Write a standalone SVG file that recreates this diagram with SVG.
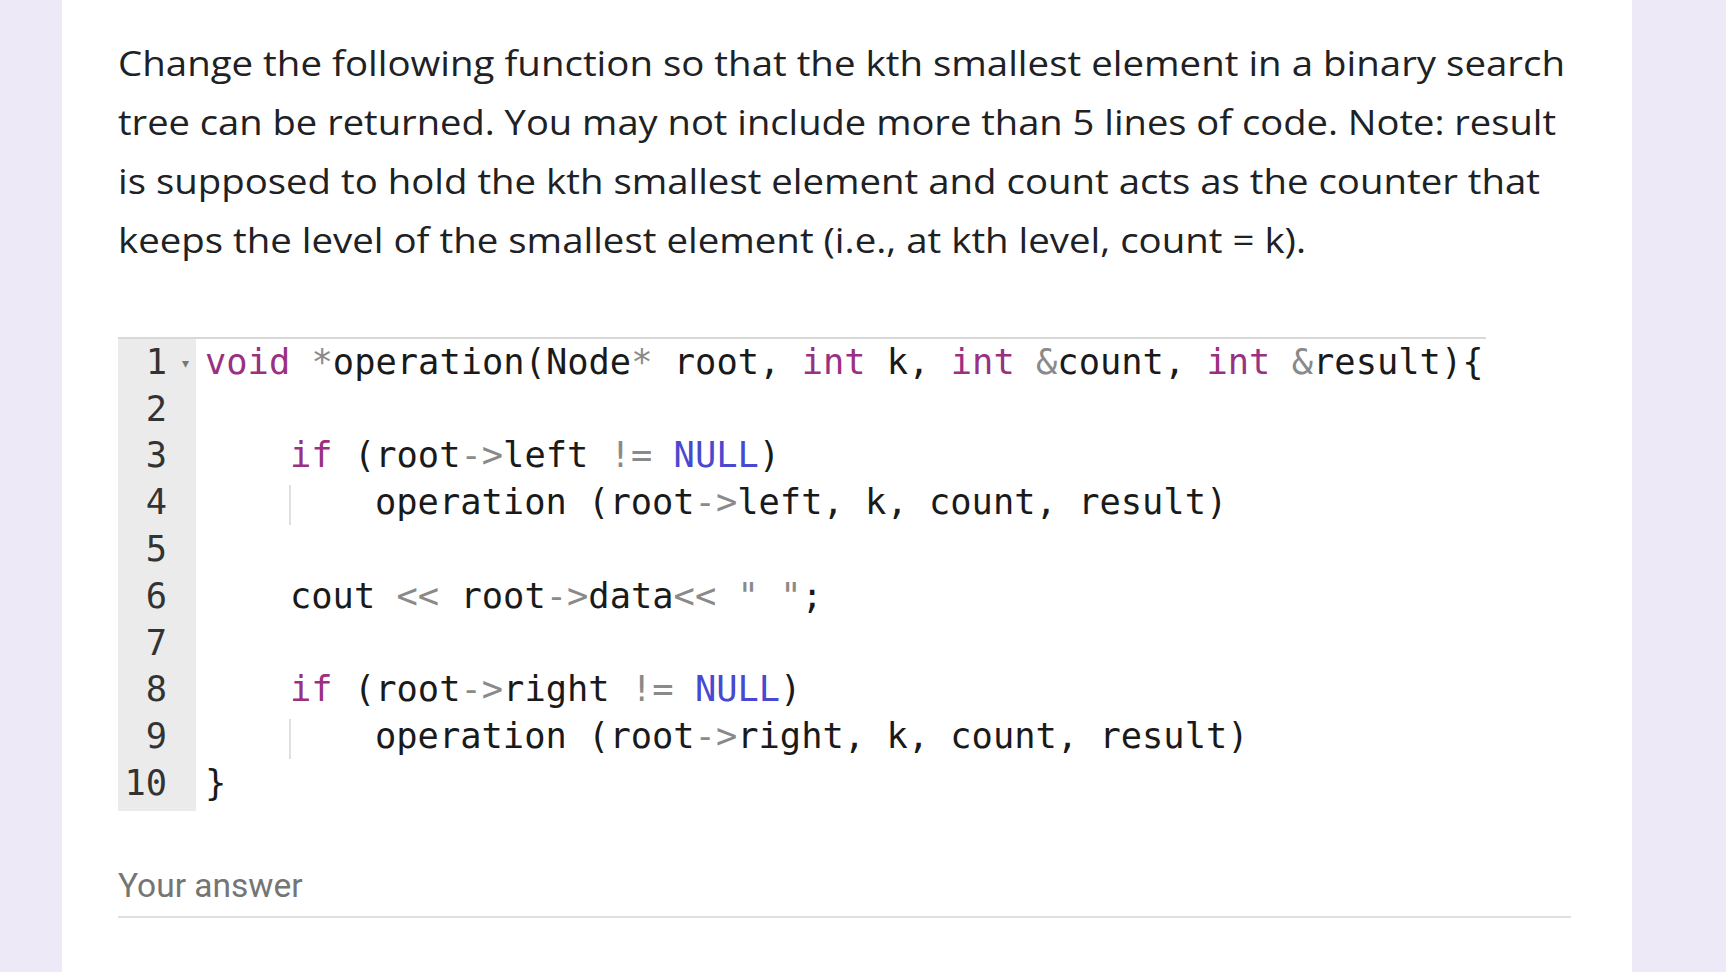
<svg xmlns="http://www.w3.org/2000/svg" width="1726" height="972" viewBox="0 0 1726 972">
<style>
.q{font-family:"Open Sans","Liberation Sans",sans-serif;font-size:34px;fill:#202124}
.c{font-family:"DejaVu Sans Mono","Liberation Mono",monospace;font-size:35.4px;fill:#1a1a1a}
.n{font-family:"DejaVu Sans Mono","Liberation Mono",monospace;font-size:35.4px;fill:#333;text-anchor:end}
.k{fill:#9b2f82}.o{fill:#8a8a8a}.b{fill:#4848d0}
</style>
<rect width="1726" height="972" fill="#ede9f7"/>
<rect x="62" y="0" width="1570" height="972" fill="#ffffff"/>
<g id="question">
<text class="q" x="118" y="76" textLength="1447" lengthAdjust="spacingAndGlyphs">Change the following function so that the kth smallest element in a binary search</text>
<text class="q" x="118" y="135" textLength="1438" lengthAdjust="spacingAndGlyphs">tree can be returned. You may not include more than 5 lines of code. Note: result</text>
<text class="q" x="118" y="194" textLength="1422" lengthAdjust="spacingAndGlyphs">is supposed to hold the kth smallest element and count acts as the counter that</text>
<text class="q" x="118" y="253" textLength="1188" lengthAdjust="spacingAndGlyphs">keeps the level of the smallest element (i.e., at kth level, count = k).</text>
</g>
<g id="code">
<line x1="118" y1="338" x2="1486" y2="338" stroke="#d8d8d8" stroke-width="2"/>
<rect x="118" y="339" width="78" height="472" fill="#ebebeb"/>
<line x1="290" y1="485" x2="290" y2="525" stroke="#e0e0e0" stroke-width="2"/>
<line x1="290" y1="719" x2="290" y2="759" stroke="#e0e0e0" stroke-width="2"/>
<text class="n" x="167" y="374">1</text>
<text class="n" x="167" y="421">2</text>
<text class="n" x="167" y="467">3</text>
<text class="n" x="167" y="514">4</text>
<text class="n" x="167" y="561">5</text>
<text class="n" x="167" y="608">6</text>
<text class="n" x="167" y="655">7</text>
<text class="n" x="167" y="701">8</text>
<text class="n" x="167" y="748">9</text>
<text class="n" x="167" y="795">10</text>
<text x="182" y="368" font-family="DejaVu Sans" font-size="14" fill="#777">▾</text>
<text class="c" x="205" y="374"><tspan class="k">void</tspan> <tspan class="o">*</tspan>operation(Node<tspan class="o">*</tspan> root, <tspan class="k">int</tspan> k, <tspan class="k">int</tspan> <tspan class="o">&amp;</tspan>count, <tspan class="k">int</tspan> <tspan class="o">&amp;</tspan>result){</text>
<text class="c" x="290" y="467"><tspan class="k">if</tspan> (root<tspan class="o">-&gt;</tspan>left <tspan class="o">!=</tspan> <tspan class="b">NULL</tspan>)</text>
<text class="c" x="375" y="514">operation (root<tspan class="o">-&gt;</tspan>left, k, count, result)</text>
<text class="c" x="290" y="608">cout <tspan class="o">&lt;&lt;</tspan> root<tspan class="o">-&gt;</tspan>data<tspan class="o">&lt;&lt;</tspan> <tspan class="o">" "</tspan>;</text>
<text class="c" x="290" y="701"><tspan class="k">if</tspan> (root<tspan class="o">-&gt;</tspan>right <tspan class="o">!=</tspan> <tspan class="b">NULL</tspan>)</text>
<text class="c" x="375" y="748">operation (root<tspan class="o">-&gt;</tspan>right, k, count, result)</text>
<text class="c" x="205" y="795">}</text>
</g>
<g id="answer">
<text x="118" y="897" font-family="Roboto,'Liberation Sans',sans-serif" font-size="33.5" fill="#757575">Your answer</text>
<line x1="118" y1="917" x2="1571" y2="917" stroke="#e0e0e0" stroke-width="2"/>
</g>
</svg>
